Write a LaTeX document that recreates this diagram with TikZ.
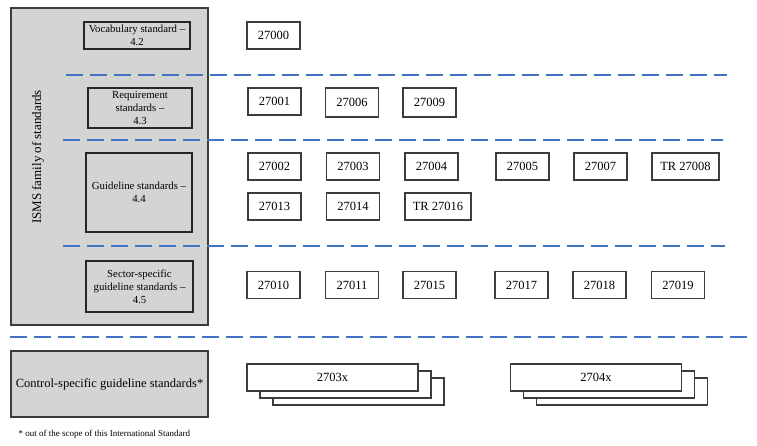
\documentclass[tikz,border=0pt]{standalone}
\usepackage{fontspec}
\setmainfont{Liberation Serif}
\usepackage{tikz}
\usetikzlibrary{shadows}
\definecolor{panelgray}{RGB}{212,213,210}
\definecolor{edgegray}{RGB}{60,60,60}
\definecolor{sepblue}{RGB}{68,114,196}

\begin{document}
\begin{tikzpicture}[x=1pt, y=-1pt,
  std/.style={draw=edgegray, line width=1.1pt, fill=white, minimum width=53pt,
    minimum height=27pt, inner sep=2pt, font=\fontsize{12.5}{14}\selectfont},
  lbl/.style={draw=black!85, line width=1.1pt, fill=panelgray, align=center,
    inner sep=1pt, font=\fontsize{10.8}{13}\selectfont},
  stack/.style={std, minimum width=171pt, fill=white,
    double copy shadow={shadow xshift=13pt, shadow yshift=-7pt,
      draw=edgegray, line width=1.1pt, fill=white}},
  sep/.style={draw=sepblue, line width=2.4pt, dash pattern=on 17pt off 7pt}
]
\useasboundingbox (0,0) rectangle (757,446);

% ISMS family panel
\node[draw=edgegray, line width=1.3pt, fill=panelgray, minimum width=197pt,
  minimum height=317pt] (family) at (109.5,166.5) {};
\node[rotate=90, font=\fontsize{13}{15}\selectfont] (familytitle)
  at (38,157) {ISMS family of standards};

\node[lbl, minimum width=106pt, minimum height=27pt] (vocab)
  at (137,35.5) {Vocabulary standard --\\4.2};
\node[lbl, minimum width=104pt, minimum height=40pt] (req)
  at (140,108) {Requirement\\standards --\\4.3};
\node[lbl, minimum width=106pt, minimum height=79pt] (guide)
  at (139,192.5) {Guideline standards --\\4.4};
\node[lbl, minimum width=107pt, minimum height=51pt] (sector)
  at (139.5,286.5) {Sector-specific\\guideline standards --\\4.5};

% separators
\coordinate (s1a) at (66,75);  \coordinate (s1b) at (727,75);
\coordinate (s2a) at (63,140); \coordinate (s2b) at (723,140);
\coordinate (s3a) at (63,246); \coordinate (s3b) at (725,246);
\coordinate (s4a) at (10,337); \coordinate (s4b) at (747,337);
\draw[sep] (s1a) -- (s1b);
\draw[sep] (s2a) -- (s2b);
\draw[sep] (s3a) -- (s3b);
\draw[sep] (s4a) -- (s4b);

% standards
\node[std] (n27000) at (273.5,35.5) {27000};

\node[std] (n27001) at (274.5,101.5) {27001};
\node[std, minimum height=29pt] (n27006) at (352,102.5) {27006};
\node[std, minimum height=29pt] (n27009) at (429.5,102.5) {27009};

\node[std] (n27002) at (274.5,166.5) {27002};
\node[std] (n27003) at (353,166.5) {27003};
\node[std] (n27004) at (431.5,166.5) {27004};
\node[std] (n27005) at (522.5,166.5) {27005};
\node[std] (n27007) at (600.5,166.5) {27007};
\node[std, minimum width=67pt] (n27008) at (685.5,166.5) {TR 27008};
\node[std] (n27013) at (274.5,206.5) {27013};
\node[std] (n27014) at (353,206.5) {27014};
\node[std, minimum width=66pt] (n27016) at (438,206.5) {TR 27016};

\node[std] (n27010) at (273.5,285) {27010};
\node[std] (n27011) at (352,285) {27011};
\node[std] (n27015) at (429.5,285) {27015};
\node[std] (n27017) at (521.5,285) {27017};
\node[std] (n27018) at (599.5,285) {27018};
\node[std] (n27019) at (678,285) {27019};

% control-specific
\node[draw=edgegray, line width=1.3pt, fill=panelgray, minimum width=197pt,
  minimum height=66pt, inner sep=1pt, font=\fontsize{12.5}{14}\selectfont]
  (control) at (109.5,384) {Control-specific guideline standards*};
\node[stack] (n2703x) at (332.5,377.5) {2703x};
\node[stack] (n2704x) at (596,377.5) {2704x};

\node[anchor=west, font=\fontsize{9}{10}\selectfont] (footnote)
  at (15,434) {* out of the scope of this International Standard};
\end{tikzpicture}
\end{document}
